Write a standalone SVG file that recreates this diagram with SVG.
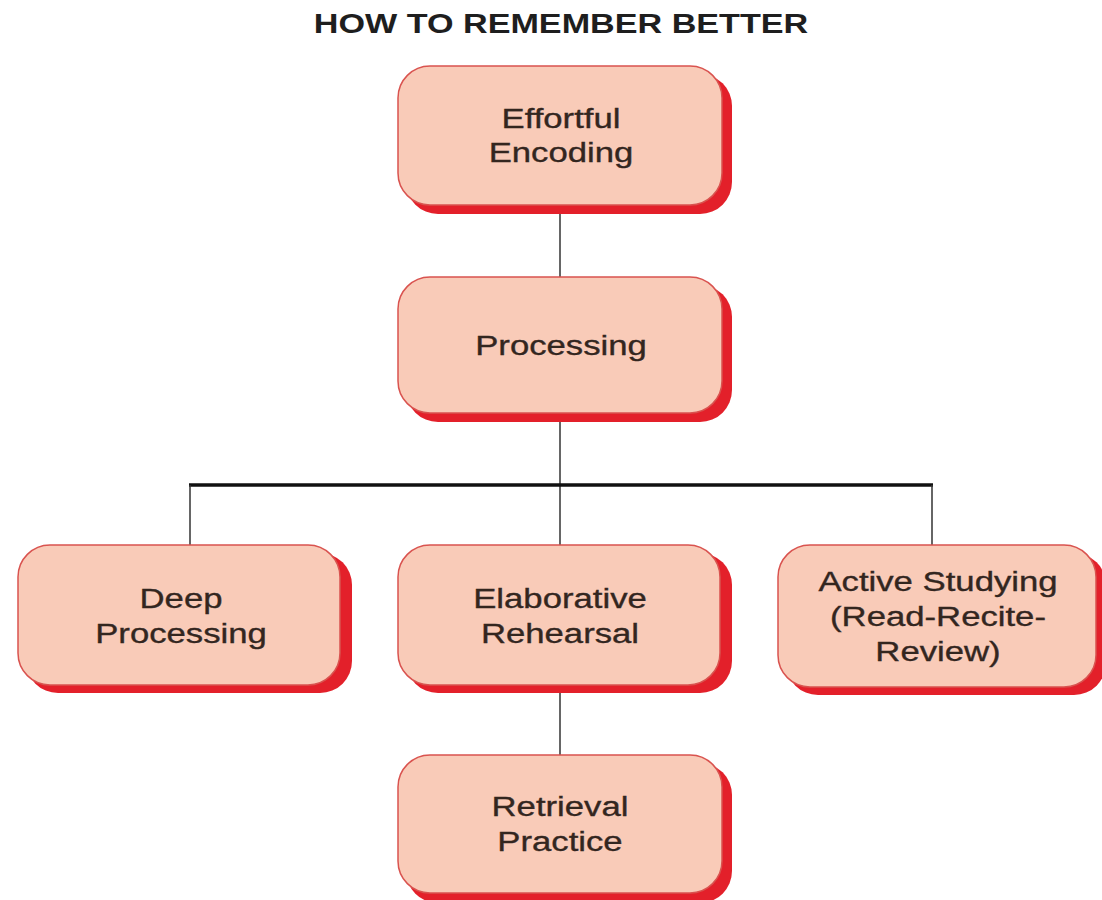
<svg xmlns="http://www.w3.org/2000/svg" width="1102" height="900" viewBox="0 0 1102 900">
<style>
.sh{fill:#e3202a}
.bx{fill:#f9cbb8;stroke:#d9534f;stroke-width:1.5}
.t{font-family:"Liberation Sans",Arial,sans-serif;font-size:28px;fill:#33261f;stroke:#33261f;stroke-width:0.35;text-anchor:middle}
.title{font-family:"Liberation Sans",Arial,sans-serif;font-size:28px;font-weight:bold;fill:#1e1e1e;text-anchor:middle}
.c{stroke:#333;stroke-width:1.5;fill:none}
.cb{stroke:#111;stroke-width:3.5;fill:none}
</style>
<rect width="1102" height="900" fill="#fff"/>
<text class="title" transform="matrix(1.22 0 0 1 561 33)" x="0" y="0">HOW TO REMEMBER BETTER</text>
<g id="connectors">
<line class="c" x1="560" y1="205" x2="560" y2="277"/>
<line class="c" x1="560" y1="413" x2="560" y2="545"/>
<line class="cb" x1="189" y1="485" x2="933" y2="485"/>
<line class="c" x1="190" y1="485" x2="190" y2="545"/>
<line class="c" x1="932" y1="485" x2="932" y2="545"/>
<line class="c" x1="560" y1="685" x2="560" y2="755"/>
</g>
<g id="effortful">
<rect class="sh" x="406" y="74" width="326" height="140" rx="32"/>
<rect class="bx" x="398" y="66" width="324" height="139" rx="32"/>
<g transform="matrix(1.24 0 0 1 561 0)">
<text class="t" x="0" y="128">Effortful</text>
<text class="t" x="0" y="162">Encoding</text>
</g>
</g>
<g id="processing">
<rect class="sh" x="406" y="285" width="326" height="137" rx="32"/>
<rect class="bx" x="398" y="277" width="324" height="136" rx="32"/>
<g transform="matrix(1.24 0 0 1 561 0)">
<text class="t" x="0" y="355">Processing</text>
</g>
</g>
<g id="deep">
<rect class="sh" x="26" y="553" width="326" height="140" rx="32"/>
<rect class="bx" x="18" y="545" width="322" height="140" rx="32"/>
<g transform="matrix(1.24 0 0 1 181 0)">
<text class="t" x="0" y="608">Deep</text>
<text class="t" x="0" y="643">Processing</text>
</g>
</g>
<g id="elaborative">
<rect class="sh" x="406" y="553" width="326" height="140" rx="32"/>
<rect class="bx" x="398" y="545" width="322" height="140" rx="32"/>
<g transform="matrix(1.24 0 0 1 560 0)">
<text class="t" x="0" y="608">Elaborative</text>
<text class="t" x="0" y="643">Rehearsal</text>
</g>
</g>
<g id="active">
<rect class="sh" x="786" y="553" width="320" height="142" rx="32"/>
<rect class="bx" x="778" y="545" width="318" height="142" rx="32"/>
<g transform="matrix(1.24 0 0 1 938 0)">
<text class="t" x="0" y="591">Active Studying</text>
<text class="t" x="0" y="626">(Read-Recite-</text>
<text class="t" x="0" y="661">Review)</text>
</g>
</g>
<g id="retrieval">
<rect class="sh" x="406" y="763" width="326" height="140" rx="32"/>
<rect class="bx" x="398" y="755" width="324" height="138" rx="32"/>
<g transform="matrix(1.24 0 0 1 560 0)">
<text class="t" x="0" y="816">Retrieval</text>
<text class="t" x="0" y="851">Practice</text>
</g>
</g>
</svg>
